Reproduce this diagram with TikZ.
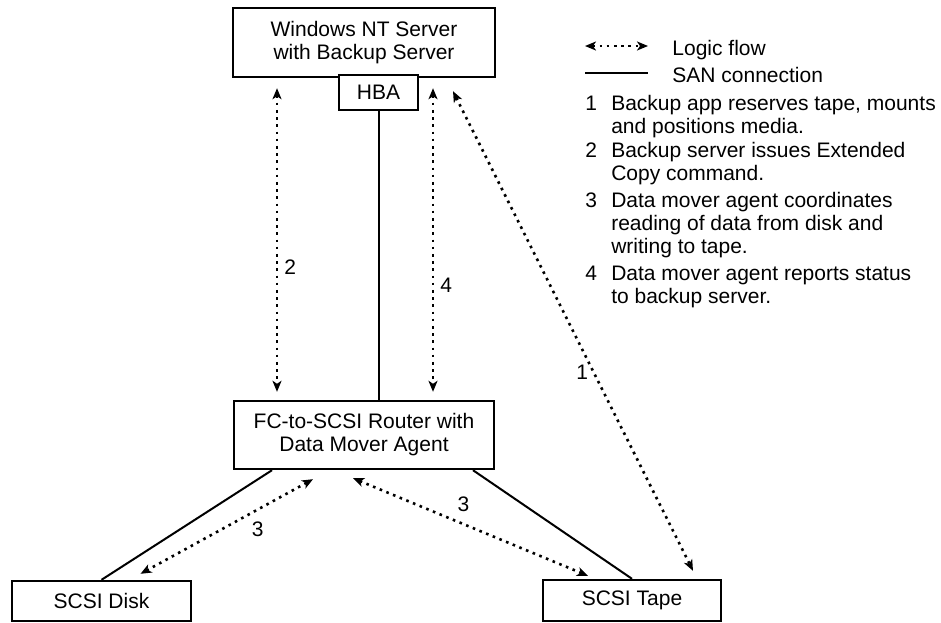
\documentclass[tikz,border=0pt]{standalone}
\usepackage{fontspec}
\setmainfont{Liberation Sans}
\usetikzlibrary{positioning,arrows.meta}

\begin{document}
\begin{tikzpicture}[x=0.5pt,y=-0.5pt,font=\fontsize{10.5}{11.5}\selectfont,
	sanbox/.style={rectangle, draw=black, fill=white, line width=1.2pt, align=center, inner sep=0pt},
	san/.style={line width=1pt},
	logic/.style={line width=1.3pt, dash pattern=on 1.3pt off 2.3pt,
		{Stealth[length=5.5pt,width=4.5pt,inset=1.5pt]}-{Stealth[length=5.5pt,width=4.5pt,inset=1.5pt]}},
	legend/.style={inner sep=0pt}]
	\useasboundingbox (0,0) rectangle (941,622);
	% boxes
	\node[sanbox, minimum width=131pt, minimum height=34.5pt] (server) at (364,42.5) {Windows NT Server\\with Backup Server};
	\node[sanbox, minimum width=39.5pt, minimum height=17.5pt] (hba) at (378.5,92.5) {HBA};
	\node[sanbox, minimum width=130pt, minimum height=34pt] (router) at (364,435) {FC-to-SCSI Router with\\Data Mover Agent};
	\node[sanbox, minimum width=89.5pt, minimum height=20pt] (disk) at (101.5,601) {SCSI Disk};
	\node[sanbox, minimum width=89pt, minimum height=20.5pt] (tape) at (632,600.5) {SCSI Tape};
	% SAN connections
	\draw[san] (hba.south) -- (router.north -| hba.south);
	\draw[san] ([xshift=-46pt]router.south) -- (disk.north);
	\draw[san] ([xshift=54.5pt]router.south) -- (tape.north);
	% logic flow
	\draw[logic] ([xshift=-43.5pt,yshift=-5pt]server.south) -- node[right, pos=0.59, inner sep=3pt] (lbl2) {2} ([xshift=-43.5pt,yshift=4pt]router.north);
	\draw[logic] ([xshift=34.5pt,yshift=-5pt]server.south) -- node[right, pos=0.65, inner sep=3pt] (lbl4) {4} ([xshift=34.5pt,yshift=4pt]router.north);
	\draw[logic] ([xshift=44.5pt,yshift=-6.5pt]server.south) -- node[left, pos=0.585, inner sep=2pt] (lbl1) {1} ([xshift=30.5pt,yshift=4pt]tape.north);
	\draw[logic] ([xshift=-25.5pt,yshift=-4.5pt]router.south) -- node[pos=0.32, below=2pt] (lbl3a) {3} ([xshift=19.5pt,yshift=3pt]disk.north);
	\draw[logic] ([xshift=-5.5pt,yshift=-4pt]router.south) -- node[pos=0.47, above=2pt] (lbl3b) {3} ([xshift=-22pt,yshift=1.5pt]tape.north);
	% legend
	\node[legend, anchor=base west] (flowtxt) at (672,55) {Logic flow};
	\node[legend, anchor=base west] (santxt) at (672,82) {SAN connection};
	\draw[logic] ([xshift=-43.5pt,yshift=4.5pt]flowtxt.base west) -- ([xshift=-12pt,yshift=4.5pt]flowtxt.base west);
	\draw[san] ([xshift=-43.5pt,yshift=4.5pt]santxt.base west) -- ([xshift=-12pt,yshift=4.5pt]santxt.base west);
	\node[legend, anchor=base west] (n1) at (585,110.5) {1};
	\node[legend, base right=6.7pt of n1] (t1) {\begin{tabular}[t]{@{}l@{}}Backup app reserves tape, mounts\\and positions media.\end{tabular}};
	\node[legend, anchor=base west] (n2) at (585,157.5) {2};
	\node[legend, base right=6.7pt of n2] (t2) {\begin{tabular}[t]{@{}l@{}}Backup server issues Extended\\Copy command.\end{tabular}};
	\node[legend, anchor=base west] (n3) at (585,207.5) {3};
	\node[legend, base right=6.7pt of n3] (t3) {\begin{tabular}[t]{@{}l@{}}Data mover agent coordinates\\reading of data from disk and\\writing to tape.\end{tabular}};
	\node[legend, anchor=base west] (n4) at (585,280.5) {4};
	\node[legend, base right=6.7pt of n4] (t4) {\begin{tabular}[t]{@{}l@{}}Data mover agent reports status\\to backup server.\end{tabular}};
\end{tikzpicture}
\end{document}
